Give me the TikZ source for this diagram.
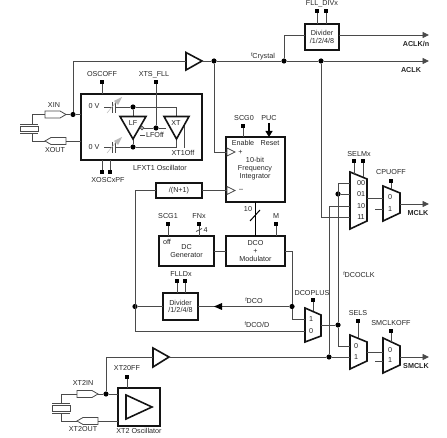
\documentclass[tikz,border=0pt]{standalone}
\usepackage{fontspec}
\setmainfont{Liberation Sans}
\usetikzlibrary{arrows.meta,calc}
\definecolor{wirec}{HTML}{4A4A4A}
\definecolor{boxc}{HTML}{141414}
\newcommand{\lbl}[4]{\node[txt] (#1) at (#2,#3) {#4};}
\newcommand{\blbl}[4]{\node[txt,font=\fontsize{7.2}{7.8}\selectfont\bfseries] (#1) at (#2,#3) {#4};}
\newcommand{\sq}[3]{\node[ctl] (#1) at (#2,#3) {};}
\newcommand{\dt}[3]{\node[jdot] (#1) at (#2,#3) {};}
\newcommand{\bx}[6][]{\node[blk,minimum width=#4pt,minimum height=#5pt,#1] (#2) at (#3) {#6};}
\newcommand{\fsub}[2]{{\fontsize{5}{5}\selectfont #1}\raisebox{-2pt}{#2}}
\tikzset{
 wire/.style={draw=wirec,line width=0.85pt},
 hv/.style={draw=boxc,line width=1.6pt,line join=miter},
 padp/.style={draw=wirec,line width=0.8pt,fill=white},
 txt/.style={inner sep=0pt,outer sep=0pt,text=black!85,font=\fontsize{7.2}{8.1}\selectfont,align=center},
 ctl/.style={fill=black,draw=none,minimum size=4.2pt,inner sep=0pt,outer sep=0pt},
 jdot/.style={circle,fill=black,draw=none,minimum size=5.2pt,inner sep=0pt,outer sep=0pt},
 blk/.style={draw=boxc,line width=1.6pt,fill=white,inner sep=0pt,outer sep=0pt,align=center,text=black!85,font=\fontsize{7.2}{8.1}\selectfont},
 tip/.style={-{Triangle[length=6.5pt,width=6pt]}},
}
\begin{document}
\begin{tikzpicture}[x=1pt,y=-1pt]
\useasboundingbox (0,0) rectangle (447,438);
% ---- blocks
\bx{lfx}{141.5,127}{121}{66}{}
\bx{dive}{322,37}{34}{26}{Divider\\[-0.5pt]/1/2/4/8}
\bx{fint}{255.5,169.5}{59}{65}{}
\bx{nplus}{179,190.5}{46}{15}{/(N+1)}
\bx{dcg}{186.5,251}{55}{30}{DC\\Generator}
\bx{dco}{255.5,251}{59}{30}{DCO\\[-0.5pt]+\\[-0.5pt]Modulator}
\bx{divl}{180.5,306.5}{35}{27}{Divider\\[-0.5pt]/1/2/4/8}
\bx{xttwo}{139,407}{42}{38}{}
% ---- control squares
\sq{sqosc}{102}{82}
\sq{sqxts}{156}{82}
\sq{sqpfa}{102}{172}
\sq{sqpfb}{110}{172}
\sq{sqdiva}{317}{11}
\sq{sqdivb}{326}{11}
\sq{sqscgz}{243}{126}
\sq{sqscg}{168}{224}
\sq{sqfnx}{199}{224}
\sq{sqm}{276}{224}
\sq{sqflla}{177}{281}
\sq{sqfllb}{185}{281}
\sq{sqplus}{313}{300}
\sq{sqselma}{354}{161}
\sq{sqselmb}{363}{161}
\sq{sqcpu}{391}{181}
\sq{sqsels}{358}{321}
\sq{sqsmclk}{391}{331}
\sq{sqxtoff}{127}{377}
% ---- junction coordinates
\dt{jtop}{214}{61}
\dt{jdiv}{284}{61}
\dt{jack}{321}{61}
\dt{jxin}{73}{114.5}
\dt{jtwo}{106}{394}
\dt{jfb}{135}{306.5}
\dt{jdco}{292}{306.5}
\dt{jmuxout}{338}{325}
\dt{jsel}{338}{194}
\dt{jxtb}{329}{357}
\dt{jlfa}{133}{107}
\dt{jlfb}{133}{147}
\dt{jlfo}{156}{128}
\coordinate (ackend) at (429,61);
\coordinate (acknstart) at (339,35);
\coordinate (acknend) at (429,35);
\coordinate (divin) at (305,35);
\coordinate (mclkend) at (429,204);
\coordinate (smclkend) at (429,357);
% ---- buffers (triangles)
\coordinate (bufaL) at (186,61);
\coordinate (bufaR) at (202,61);
\draw[hv,fill=white] (186,52.5)--(202,61)--(186,70)--cycle;
\coordinate (bufbL) at (153,357);
\coordinate (bufbR) at (169,357);
\draw[hv,fill=white] (153,348)--(169,357)--(153,367)--cycle;
\draw[hv] (126,395)--(152,407)--(126,419)--cycle;
% ---- muxes
\draw[hv,fill=white] (350,172)--(367,179)--(367,221)--(350,229)--cycle;
\draw[hv,fill=white] (383,186)--(400,193)--(400,213)--(383,221)--cycle;
\draw[hv,fill=white] (305,308)--(321,315)--(321,336)--(305,342)--cycle;
\draw[hv,fill=white] (350,335)--(367,342)--(367,361)--(350,369)--cycle;
\draw[hv,fill=white] (383,338)--(400,346)--(400,365)--(383,373)--cycle;
\coordinate (mselO) at (367,198);
\coordinate (mcpuI) at (383,198);
\coordinate (mcpuO) at (400,204);
\coordinate (mselsO) at (367,352);
\coordinate (msmI) at (383,352);
\coordinate (msmO) at (400,357);
\coordinate (mplO) at (321,325);
% ---- main wires
\begin{scope}[wire]
\draw (bufaR)--(jtop)--(jdiv)--(jack);
\draw[tip] (jack)--(ackend);
\draw (jdiv)|-(divin);
\draw[tip] (acknstart)--(acknend);
\draw (jxin)|-(bufaL);
\draw (jxin)--(lfx.west|-jxin);
\coordinate (intp) at (227,152);
\coordinate (intm) at (227,190.5);
\draw (jtop)|-(intp);
\draw (nplus.east)--(intm);
\coordinate (fbcorner) at (135,331);
\coordinate (muxz) at (305,331);
\coordinate (muxo) at (305,319);
\draw (nplus.west)-|(fbcorner)--(muxz);
\draw (jfb)--(divl.west);
\draw (divl.east)--(jdco);
\draw (dcg.east)--(dco.west);
\coordinate (dcoR) at (292,251);
\draw (dco.east)--(dcoR)--(jdco);
\draw (jdco)|-(muxo);
\draw (mplO)--(jmuxout);
\coordinate (s00) at (350,183);
\coordinate (s01) at (350,194);
\coordinate (s10) at (350,206);
\coordinate (s11) at (350,217);
\coordinate (sels0) at (350,346);
\coordinate (sels1) at (350,357);
\draw (jmuxout)|-(sels0);
\draw (jmuxout)|-(s00);
\draw (jsel)--(s01);
\draw (jack)|-(s11);
\draw (jxtb)|-(s10);
\draw (mselO)--(mcpuI);
\draw[tip] (mcpuO)--(mclkend);
\draw (mselsO)--(msmI);
\draw[tip] (msmO)--(smclkend);
\draw (bufbR)--(jxtb)--(sels1);
\draw (jtwo)|-(bufbL);
\draw (jtwo)--(xttwo.west|-jtwo);
% stubs
\coordinate (cpuin) at (375,209);
\coordinate (cpuon) at (383,209);
\draw (cpuin)--(cpuon);
\coordinate (smin) at (375,361);
\coordinate (smon) at (383,361);
\draw (smin)--(smon);
% controls
\draw (sqosc)--(sqosc|-lfx.north);
\draw (sqxts)--(jlfo);
\draw (sqpfa)--(sqpfa|-lfx.south);
\draw (sqpfb)--(sqpfb|-lfx.south);
\draw (sqdiva)--(sqdiva|-dive.north);
\draw (sqdivb)--(sqdivb|-dive.north);
\draw (sqscgz)--(sqscgz|-fint.north);
\draw (sqscg)--(sqscg|-dcg.north);
\draw (sqfnx)--(sqfnx|-dcg.north);
\draw (sqm)--(sqm|-dco.north);
\draw (sqflla)--(sqflla|-divl.north);
\draw (sqfllb)--(sqfllb|-divl.north);
\coordinate (plusm) at (313,311);
\draw (sqplus)--(plusm);
\coordinate (selma) at (354,174);
\coordinate (selmb) at (363,177);
\draw (sqselma)--(selma);
\draw (sqselmb)--(selmb);
\coordinate (cpum) at (391,189);
\draw (sqcpu)--(cpum);
\coordinate (selsm) at (358,338);
\draw (sqsels)--(selsm);
\coordinate (smm) at (391,342);
\draw (sqsmclk)--(smm);
\draw (sqxtoff)--(sqxtoff|-xttwo.north);
% FNx slash
\coordinate (fa) at (196,231.5);
\coordinate (fb) at (202,228.5);
\draw (fa)--(fb);
\end{scope}
% thick bus
\draw[draw=black,line width=1.6pt] (fint.south)--(dco.north);
\coordinate (bsa) at (250,221);
\coordinate (bsb) at (260,210);
\draw[draw=black,line width=1pt] (bsa)--(bsb);
% PUC arrow
\coordinate (puct) at (269,123);
\coordinate (pucb) at (269,137);
\draw[draw=black,line width=1.1pt,-{Triangle[length=6pt,width=7pt]}] (puct)--(pucb);
% fDCO arrowhead
\draw[draw=none,fill=black] (222,303)--(214,306.5)--(222,310)--cycle;
% integrator input triangles
\draw[wire,fill=white] (227,148)--(235,152)--(227,156)--cycle;
\draw[wire,fill=white] (227,186.5)--(235,190.5)--(227,194.5)--cycle;
% ---- LFXT1 internals
\begin{scope}[wire]
\coordinate (xttop) at (176,107);
\coordinate (xtbot) at (176,147);
\coordinate (capa) at (115.5,107);
\coordinate (capb) at (115.5,147);
\coordinate (vla) at (104,107);
\coordinate (vlb) at (104,147);
\coordinate (vra) at (112.5,107);
\coordinate (vrb) at (112.5,147);
\draw (vla)--(vra);
\draw (vlb)--(vrb);
\draw (capa)--(jlfa)--(xttop)--(176,116);
\draw (capb)--(jlfb)--(xtbot)--(176,139);
\draw (jlfa)--(133,116);
\draw (jlfb)--(133,139);
\draw (jlfo)--(166,128);
\draw (144,128)--(jlfo);
\draw (140,135)--(145,135);
\draw (184,125)--(184,148);
\draw (112.5,102)--(112.5,113);
\draw (115.5,102)--(115.5,113);
\draw (112.5,142)--(112.5,153);
\draw (115.5,142)--(115.5,153);
\end{scope}
\draw[hv] (120,116.5)--(146,116.5)--(133,139)--cycle;
\draw[hv] (164,116.5)--(189,116.5)--(176.5,139)--cycle;
\draw[wire,fill=white] (142,128) circle (1.7);
\foreach \yy in {107,147}{
 \draw[gray!55,line width=0.5pt] (107,\yy+6)--(117,\yy-6);
 \fill[gray!55] (122,\yy-10)--(114,\yy-6)--(118,\yy-2)--cycle;
}
% LFXT crystal
\coordinate (cpa) at (32,124);
\coordinate (cpb) at (32,133.5);
\draw[wire] (45,114.5)-|(cpa);
\draw[wire] (45,141)-|(cpb);
\draw[wire] (20,124)--(38,124);
\draw[wire] (20,133.5)--(38,133.5);
\draw[wire,fill=white] (20,126)rectangle(38,131);
\draw[padp] (45,111)--(60,111)--(66,114.5)--(60,118)--(45,118)--cycle;
\draw[padp] (66,137.5)--(51,137.5)--(45,141)--(51,144.5)--(66,144.5)--cycle;
\coordinate (xinP) at (66,114.5);
\coordinate (xoutP) at (66,141);
\draw[wire] (xinP)--(jxin);
\draw[wire] (xoutP)--(xoutP-|lfx.west);
% XT2 crystal
\coordinate (dpa) at (61,403);
\coordinate (dpb) at (61,413);
\draw[wire] (77,394)-|(dpa);
\draw[wire] (77,421)-|(dpb);
\draw[wire] (52,403)--(70,403);
\draw[wire] (52,413)--(70,413);
\draw[wire,fill=white] (52,405)rectangle(70,411);
\draw[padp] (77,390.5)--(92,390.5)--(98,394)--(92,397.5)--(77,397.5)--cycle;
\draw[padp] (98,417.5)--(83,417.5)--(77,421)--(83,424.5)--(98,424.5)--cycle;
\coordinate (xtinP) at (98,394);
\coordinate (xtoutP) at (98,421);
\draw[wire] (xtinP)--(jtwo);
\draw[wire] (xtoutP)--(xtoutP-|xttwo.west);
% ---- labels
\lbl{tfll}{322}{4}{FLL\_DIVx}
\blbl{taclkn}{416}{44}{ACLK/n}
\blbl{taclk}{411}{70}{ACLK}
\lbl{tfcr}{263}{56}{\fsub{f}{Crystal}}
\lbl{tosc}{102}{74.5}{OSCOFF}
\lbl{txts}{154}{74.5}{XTS\_FLL}
\lbl{txin}{54}{105}{XIN}
\lbl{txout}{55}{150}{XOUT}
\lbl{tva}{94}{106}{0 V}
\lbl{tvb}{94}{147}{0 V}
\lbl{tlf}{133}{123}{LF}
\lbl{txt}{176}{123}{XT}
\lbl{tlfo}{155}{135}{LFOff}
\lbl{txto}{183}{153}{XT1Off}
\lbl{tlfx}{160}{168}{LFXT1 Oscillator}
\lbl{tpf}{108}{180}{XOSCxPF}
\lbl{tscgz}{244}{118}{SCG0}
\lbl{tpuc}{269}{118}{PUC}
\lbl{ten}{243}{143}{Enable}
\lbl{tre}{270}{143}{Reset}
\lbl{tpl}{240.5}{152}{+}
\lbl{tint}{255}{169}{10-bit\\Frequency\\Integrator}
\lbl{tmi}{241}{190}{--}
\lbl{tten}{248}{209}{10}
\lbl{tscg}{168}{216}{SCG1}
\lbl{tfnx}{199}{216}{FNx}
\lbl{tm}{276}{216}{M}
\lbl{tfour}{205.5}{230}{4}
\lbl{toff}{167}{241.5}{off}
\lbl{tfld}{181}{274}{FLLDx}
\lbl{tfdco}{254}{301}{\fsub{f}{DCO}}
\lbl{tfdcod}{257}{325}{\fsub{f}{DCO/D}}
\lbl{tplus}{312}{293}{DCOPLUS}
\lbl{tm1}{311}{319.5}{1}
\lbl{tm0}{311}{331}{0}
\lbl{tfclk}{359}{274.5}{\fsub{f}{DCOCLK}}
\lbl{tsm}{359}{154}{SELMx}
\lbl{tcpu}{391}{172.5}{CPUOFF}
\lbl{ts0}{361}{183}{00}
\lbl{ts1}{361}{194}{01}
\lbl{ts2}{361}{206}{10}
\lbl{ts3}{361}{217}{11}
\lbl{tc0}{390}{197}{0}
\lbl{tc1}{390}{209}{1}
\blbl{tmclk}{418}{213}{MCLK}
\lbl{tsels}{358}{313}{SELS}
\lbl{tsmo}{391}{323}{SMCLKOFF}
\lbl{tz0}{356}{346}{0}
\lbl{tz1}{356}{357}{1}
\lbl{ty0}{390}{350}{0}
\lbl{ty1}{390}{360.5}{1}
\blbl{tsmc}{416}{366}{SMCLK}
\lbl{txtoff}{127}{368}{XT20FF}
\lbl{txti}{83}{383}{XT2IN}
\lbl{txto2}{83}{429}{XT2OUT}
\lbl{txos}{139}{431}{XT2 Oscillator}
\end{tikzpicture}
\end{document}
